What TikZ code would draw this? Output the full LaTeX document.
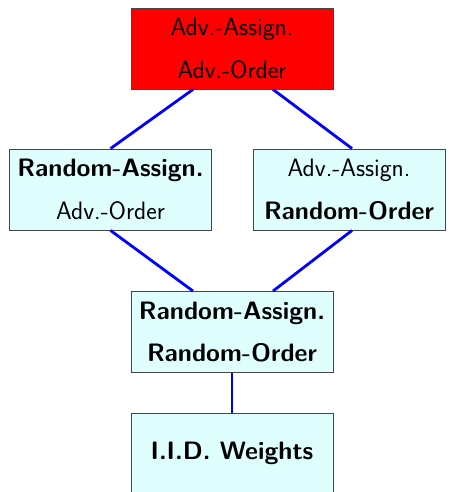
\documentclass[tikz,border=0pt]{standalone}
\usetikzlibrary{calc}
\definecolor{boxcyan}{RGB}{223,255,255}
\definecolor{boxline}{RGB}{70,70,70}
\tikzset{
	modelbox/.style={draw=boxline, line width=0.9pt, rectangle, minimum width=202pt, minimum height=81pt,
		align=center, inner sep=0pt, font=\sffamily\fontsize{25.2}{42.7}\selectfont, fill=boxcyan},
	link/.style={draw=blue, line width=2.8pt}
}
\begin{document}
\begin{tikzpicture}[x=1pt, y=-1pt]

	\useasboundingbox (0, 0) rectangle (452, 492);
	\clip (0, 0) rectangle (452, 492);

		\node[modelbox, fill=red] (advadv) at(232, 48.5){Adv.-Assign.\\Adv.-Order};
		\node[modelbox] (randadv) at(110.5, 189.5){\textbf{Random-Assign.}\\Adv.-Order};
		\node[modelbox, minimum width=192pt] (advrand) at(349, 189.5){Adv.-Assign.\\\textbf{Random-Order}};
		\node[modelbox] (randrand) at(232, 332){\textbf{Random-Assign.}\\\textbf{Random-Order}};
		\node[modelbox] (iid) at(232, 453.5){\textbf{I.I.D. Weights}};

		\draw[link]([xshift=-39pt]advadv.south) to (randadv.north);
		\draw[link]([xshift=41pt]advadv.south) to ([xshift=3pt]advrand.north);
			\draw[link](randadv.south) to ([xshift=-39pt]randrand.north);
			\draw[link]([xshift=3pt]advrand.south) to ([xshift=41pt]randrand.north);
		\draw[link](randrand.south) to (iid.north);

	\end{tikzpicture}
\end{document}
